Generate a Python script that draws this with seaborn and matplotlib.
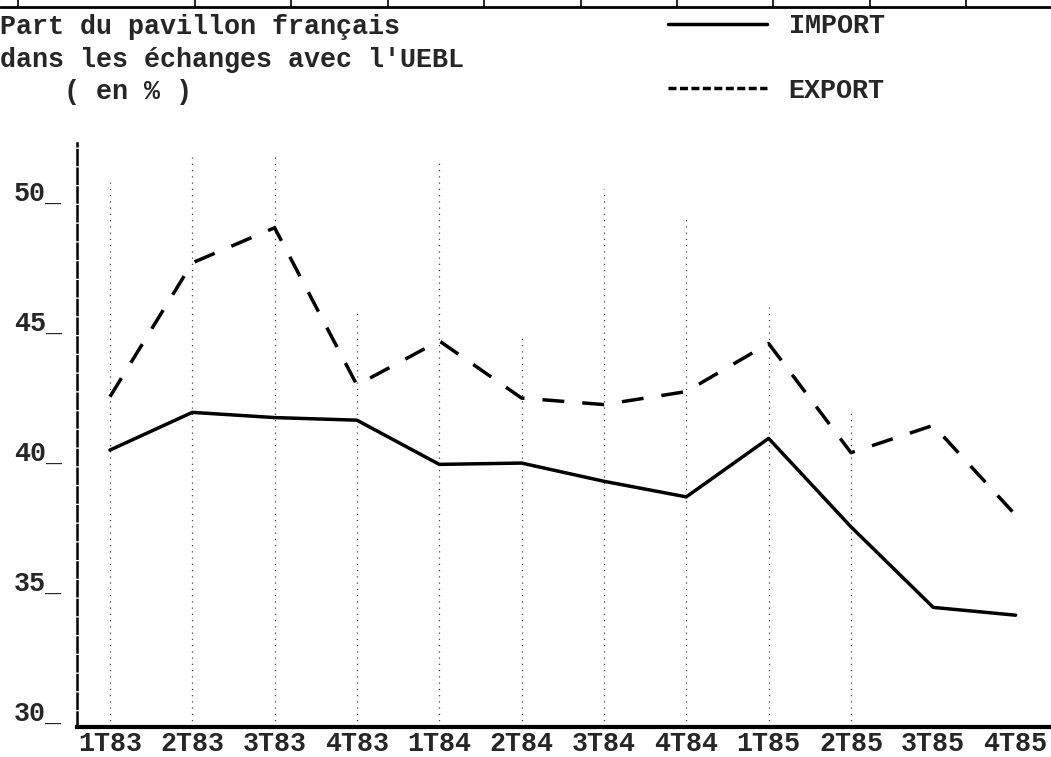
import numpy as np
import pandas as pd
import matplotlib.pyplot as plt
import seaborn as sns
from matplotlib.lines import Line2D

trimestres = ['1T83', '2T83', '3T83', '4T83', '1T84', '2T84',
              '3T84', '4T84', '1T85', '2T85', '3T85', '4T85']
part_import = [40.65, 42.1, 41.9, 41.8, 40.1, 40.15, 39.45, 38.85, 41.1, 37.7, 34.6, 34.3]
part_export = [42.7, 47.85, 49.2, 43.15, 44.85, 42.65, 42.4, 42.9, 44.75, 40.55, 41.6, 38.15]
# hauteur des pointilles verticaux (en %), rien pour 3T85 et 4T85
grille_haut = [51.0, 52.1, 52.1, 46.0, 51.8, 45.0, 50.7, 49.7, 46.2, 42.2, np.nan, np.nan]
graduations = [30, 35, 40, 45, 50]

sns.set_theme(style='white')
plt.rcParams['font.family'] = ['Liberation Mono', 'DejaVu Sans Mono']
plt.rcParams['font.weight'] = 'bold'
taille = 19.3

n = len(trimestres)
df = pd.DataFrame({
    'pos': np.tile(np.arange(n), 2),
    'part': part_import + part_export,
    'serie': ['IMPORT'] * n + ['EXPORT'] * n,
})

fig = plt.figure(figsize=(10.51, 7.57), dpi=100)
ax = fig.add_axes([77 / 1051, 30 / 757, 974 / 1051, 584 / 757])

# pointilles verticaux
pos = np.arange(n)
haut = np.array(grille_haut)
ok = ~np.isnan(haut)
ax.vlines(pos[ok], 30, haut[ok], colors='#444444', lw=0.9, linestyles=(0, (1, 4)))

sns.lineplot(data=df, x='pos', y='part', style='serie', color='black', lw=2.5,
             dashes={'IMPORT': '', 'EXPORT': (6.3, 5.2)}, legend=False, ax=ax)

ax.set_xlim(-0.4, 11.43)
ax.set_ylim(30, 52.46)
ax.set_xticks(pos)
ax.set_xticklabels(trimestres, fontsize=taille)
ax.set_yticks(graduations)
ax.set_yticklabels([f'{g}_' for g in graduations], fontsize=taille)
for lab in ax.get_yticklabels():
    lab.set_verticalalignment('bottom')
ax.tick_params(axis='x', length=0, pad=3)
ax.tick_params(axis='y', length=0, pad=11)
ax.set_xlabel('')
ax.set_ylabel('')

ax.spines['top'].set_visible(False)
ax.spines['right'].set_visible(False)
ax.spines['left'].set_linestyle((0, (6, 1.5)))
ax.spines['left'].set_linewidth(1.8)
ax.spines['left'].set_color('black')
ax.spines['bottom'].set_linewidth(3)
ax.spines['bottom'].set_color('black')

# titre
fig.text(0.0, 1 - 27 / 757, 'Part du pavillon français', fontsize=taille, va='center')
fig.text(0.0, 1 - 60 / 757, "dans les échanges avec l'UEBL", fontsize=taille, va='center')
fig.text(0.0, 1 - 92 / 757, '    ( en % )', fontsize=taille, va='center')

# legende
poignees = [Line2D([], [], color='black', lw=2.5),
            Line2D([], [], color='black', lw=2.5, ls=(0, (2.3, 1)))]
fig.legend(handles=poignees, labels=['IMPORT', 'EXPORT'], loc='upper left',
           bbox_to_anchor=(668 / 1051, 1 - 13 / 757), frameon=False,
           handlelength=3.7, handletextpad=0.8, labelspacing=1.45,
           borderpad=0, borderaxespad=0, fontsize=taille)

# bord du tableau precedent, en haut de la page
y_bord = 1 - 7 / 757
fig.add_artist(Line2D([0, 1], [y_bord, y_bord], transform=fig.transFigure, color='black', lw=2))
for xb in [18] + list(195 + 96.4 * np.arange(9)):
    fig.add_artist(Line2D([xb / 1051, xb / 1051], [y_bord, 1], transform=fig.transFigure,
                          color='black', lw=1.2))

fig.savefig('out.png', dpi=100)
